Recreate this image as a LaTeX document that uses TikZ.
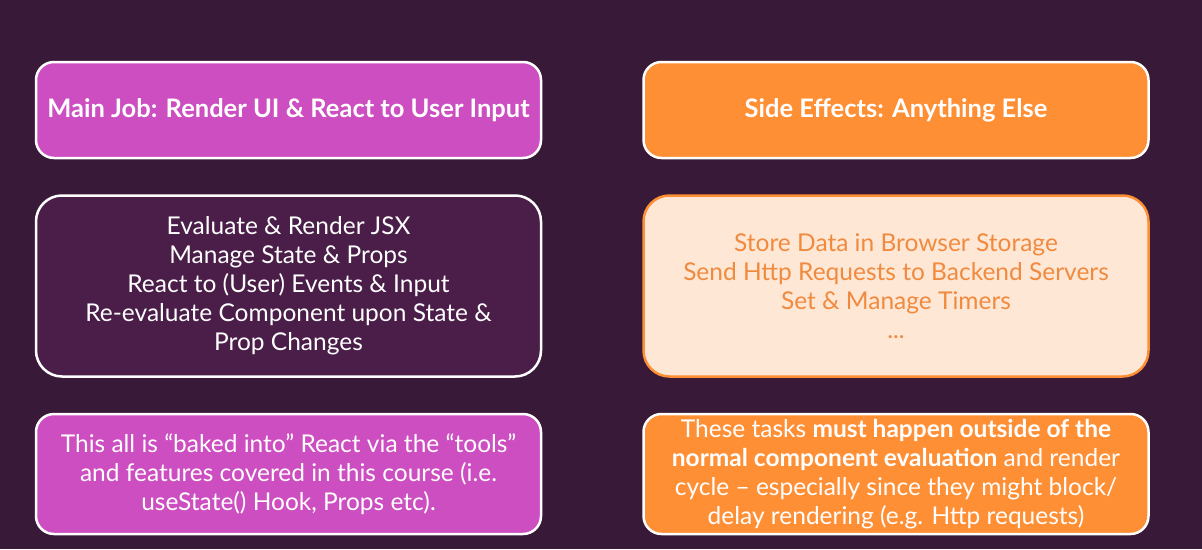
\documentclass[tikz,border=0pt]{standalone}
\usepackage{fontspec}
\setmainfont{Lato}
\usetikzlibrary{positioning}
\definecolor{react-bg}{RGB}{56,26,56}
\definecolor{react-magenta}{RGB}{204,78,192}
\definecolor{react-plum}{RGB}{74,30,72}
\definecolor{react-orange}{RGB}{255,143,53}
\definecolor{react-peach}{RGB}{255,231,214}
\definecolor{react-peachtext}{RGB}{240,138,62}

\begin{document}
\begin{tikzpicture}[
    x=1pt, y=-1pt,
    node distance=35pt and 100pt,
    box/.style={rectangle, draw=white, line width=2.5pt, rounded corners=18pt, minimum width=505pt, align=center, text=white, font=\fontsize{24.5}{29}\selectfont},
    head/.style={box, minimum height=96pt, font=\fontsize{25.5}{29}\selectfont\bfseries},
    list/.style={box, minimum height=181pt, rounded corners=26pt},
    note/.style={box, minimum height=120pt}
]

% background
\fill[react-bg] (0,0) rectangle (1202,549);

% React (left side)
\node[head, fill=react-magenta] (main-job) at (288.5,110) {Main Job: Render UI \& React to User Input};
\node[list, fill=react-plum, below=of main-job] (main-list) {Evaluate \& Render JSX\\Manage State \& Props\\React to (User) Events \& Input\\Re-evaluate Component upon State \&\\Prop Changes};
\node[note, fill=react-magenta, below=of main-list] (main-note) {This all is “baked into” React via the “tools”\\and features covered in this course (i.e.\\useState() Hook, Props etc).};

% Side effects (right side)
\node[head, fill=react-orange, right=of main-job] (side-job) {Side Effects: Anything Else};
\node[list, draw=react-orange, fill=react-peach, text=react-peachtext, right=of main-list] (side-list) {Store Data in Browser Storage\\Send Http Requests to Backend Servers\\Set \& Manage Timers\\...};
\node[note, fill=react-orange, right=of main-note] (side-note) {These tasks \textbf{must happen outside of the}\\\textbf{normal component evaluation} and render\\cycle – especially since they might block/\\delay rendering (e.g. Http requests)};

\end{tikzpicture}
\end{document}
